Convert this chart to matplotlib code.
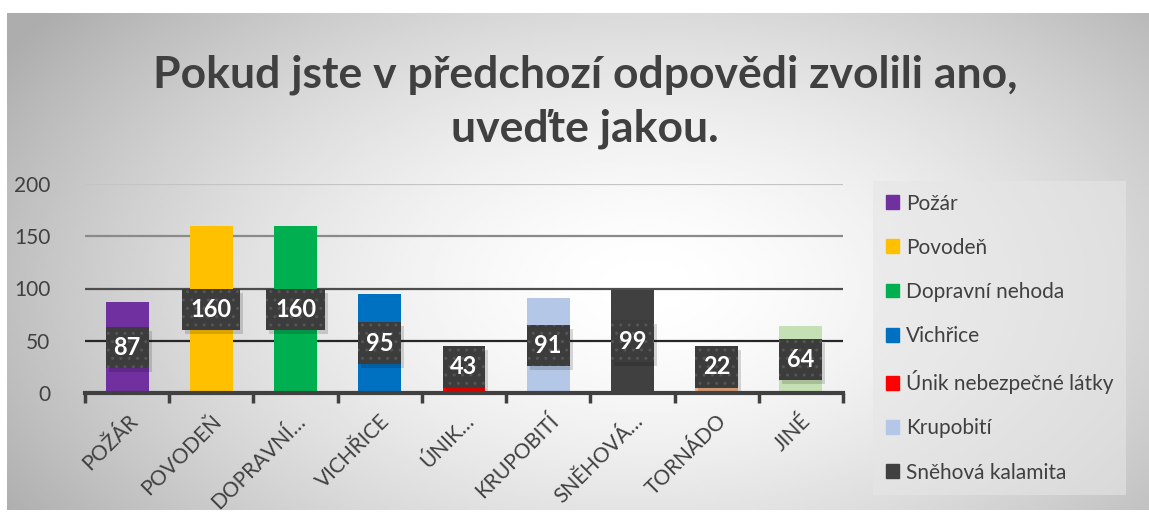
import numpy as np
import matplotlib.pyplot as plt
from matplotlib.patches import Patch, Rectangle
from matplotlib.transforms import offset_copy

plt.rcParams['font.family'] = ['Lato', 'DejaVu Sans']

# data
categories = ['POŽÁR', 'POVODEŇ', 'DOPRAVNÍ…', 'VICHŘICE', 'ÚNIK…',
              'KRUPOBITÍ', 'SNĚHOVÁ…', 'TORNÁDO', 'JINÉ']
legend_names = ['Požár', 'Povodeň', 'Dopravní nehoda', 'Vichřice',
                'Únik nebezpečné látky', 'Krupobití', 'Sněhová kalamita',
                'Tornádo', 'Jiné']
values = [87, 160, 160, 95, 43, 91, 99, 22, 64]
colors = ['#7030A0', '#FFC000', '#00B050', '#0070C0', '#FF0000',
          '#B4C7E7', '#404040', '#F4B183', '#C5E0B4']

W, H = 1149, 514
fig = plt.figure(figsize=(W / 100, H / 100), dpi=100)

# gradient background (radial, white in the middle)
bg = fig.add_axes([7 / W, 4 / H, (W - 7) / W, (H - 17) / H], zorder=-5)
xx, yy = np.meshgrid(np.linspace(0, 1, 400), np.linspace(0, 1, 200))
r = np.sqrt(((xx - 0.56) / 0.55) ** 2 + ((yy - 0.55) / 0.75) ** 2)
shade = 1 - 0.24 * np.clip(r, 0, 1.2) ** 1.6
bg.imshow(shade, cmap='gray', vmin=0, vmax=1, aspect='auto',
          extent=[0, 1, 0, 1], interpolation='bilinear')
bg.axis('off')

ax = fig.add_axes([85 / W, (H - 393) / H, (843 - 85) / W, (393 - 184) / H])
ax.set_facecolor('none')

x = np.arange(len(categories))
bars = ax.bar(x, values, width=0.51, color=colors, zorder=3)

ax.set_xlim(-0.5, len(categories) - 0.5)
ax.set_ylim(0, 200)
ax.set_yticks([0, 50, 100, 150, 200])

# gridlines get darker towards the bottom
grid_cols = {50: '#262626', 100: '#4d4d4d', 150: '#8a8a8a', 200: '#c4c4c4'}
for yv, c in grid_cols.items():
    ax.axhline(yv, color=c, lw=1.6, zorder=1)

for s in ['top', 'right', 'left']:
    ax.spines[s].set_visible(False)
ax.spines['bottom'].set_color('#404040')
ax.spines['bottom'].set_linewidth(3)
ax.spines['bottom'].set_zorder(4)

ax.tick_params(axis='y', length=0, labelsize=15, labelcolor='#404040', pad=25)
ax.set_xticks(x)
ax.set_xticklabels(categories, rotation=45, ha='right', rotation_mode='anchor',
                   fontsize=15, color='#404040')
ax.tick_params(axis='x', which='major', length=0, pad=13)
ax.set_xticks(np.arange(-0.5, len(categories)), minor=True)
ax.tick_params(axis='x', which='minor', length=7, width=2.5, color='#404040')

# value labels in dark dotted boxes with a soft shadow
shadow_tr = offset_copy(ax.transData, fig=fig, x=3, y=-4, units='dots')
for xi, v in zip(x, values):
    yc = max(v / 2, 25)
    bw = 0.51 if len(str(v)) < 3 else 0.69
    ax.add_patch(Rectangle((xi - bw / 2, yc - 20), bw, 40, fc='black',
                           ec='none', alpha=0.15, zorder=3.5,
                           transform=shadow_tr))
    ax.add_patch(Rectangle((xi - bw / 2, yc - 20), bw, 40, fc='#3c3c3c',
                           ec='#555555', lw=0, hatch='..', zorder=4))
    ax.text(xi, yc, str(v), ha='center', va='center', fontsize=17,
            fontweight='bold', color='white', zorder=5)

# title
fig.text(585 / W, 1 - 75 / H, 'Pokud jste v předchozí odpovědi zvolili ano,',
         ha='center', va='center', fontsize=32, fontweight='bold', color='#404040')
fig.text(585 / W, 1 - 129 / H, 'uveďte jakou.',
         ha='center', va='center', fontsize=32, fontweight='bold', color='#404040')

# legend (only the first seven entries fit)
handles = [Patch(color=c, label=n) for c, n in zip(colors, legend_names)][:7]
leg = fig.legend(handles=handles, loc='upper left',
                 bbox_to_anchor=(873 / W, 1 - 181 / H), borderaxespad=0,
                 frameon=True, fontsize=15, labelcolor='#404040',
                 handlelength=0.65, handleheight=0.65, handletextpad=0.35,
                 labelspacing=1.16, borderpad=0.6, fancybox=False)
leg.get_frame().set_facecolor('#e6e6e6')
leg.get_frame().set_alpha(0.6)
leg.get_frame().set_edgecolor('none')

fig.savefig('out.png', dpi=100)
